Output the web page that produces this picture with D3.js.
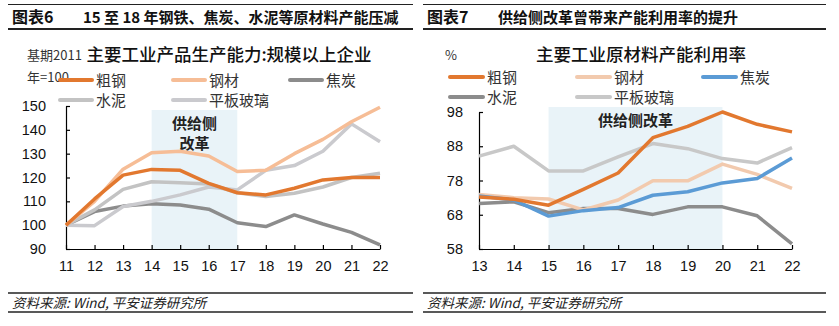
<!DOCTYPE html>
<html><head><meta charset="utf-8">
<script src="https://cdn.jsdelivr.net/npm/d3@7"></script>
<style>
body{margin:0;background:#fff;}
svg{display:block;font-family:"Liberation Sans","Noto Sans CJK SC",sans-serif;}
</style></head>
<body>
<svg id="c" width="839" height="326"></svg>
<script>
// ---------- Data: Chart 6 ----------
const years6 = ["11","12","13","14","15","16","17","18","19","20","21","22"];
const crudeSteel6 = [100,111,121,123.4,123,117.5,113.6,112.7,115.5,119,120,120];
const steelProd6  = [100,110,123.5,130.4,131,129,122.5,123,130,136,143.4,149.5];
const coke6       = [100,105.7,108,109,108.5,106.7,101,99.4,104.3,100.5,97,91.7];
const cement6     = [100,106.4,115,118.2,117.8,117.3,113.6,112,113.4,116,120,121.8];
const glass6      = [100,99.8,107.8,110,112.7,116,114.8,123,125,131,142.5,135];
const yTicks6 = [90,100,110,120,130,140,150];
const shade6 = ["14","17"];

// ---------- Data: Chart 7 ----------
const years7 = ["13","14","15","16","17","18","19","20","21","22"];
const crudeSteel7 = [73.2,72.5,70.8,75.4,80.2,90.5,93.8,98,94.4,92.2];
const steelProd7  = [73.9,73,72.6,69.4,72.3,77.9,77.9,82.8,79.8,75.7];
const coke7       = [73.5,72.3,67.6,69.2,70.1,73.7,74.7,77.3,78.6,84.6];
const cement7     = [71.3,71.8,68.6,69.8,69.8,68.1,70.3,70.3,67.7,59.5];
const glass7      = [85.1,88,80.8,80.8,84.9,88.8,87.3,84.4,83.1,87.6];
const yTicks7 = [58,68,78,88,98];
const shade7 = ["15","20"];

const names = ["粗钢","钢材","焦炭","水泥","平板玻璃"];

const svg = d3.select("#c");
const CJK = '"Noto Sans CJK SC","Liberation Sans",sans-serif';

// ---------- Headers & footers ----------
function frame(x0, x1, label, title){
  svg.append("line").attr("x1",x0).attr("x2",x1).attr("y1",4.5).attr("y2",4.5)
     .attr("stroke","#222").attr("stroke-width",1.2);
  svg.append("line").attr("x1",x0).attr("x2",x1).attr("y1",29).attr("y2",29)
     .attr("stroke","#222").attr("stroke-width",2);
  svg.append("text").attr("x",x0+4).attr("y",23).attr("font-size",16).attr("font-weight","bold")
     .style("font-family",CJK).attr("fill","#111").text(label);
  svg.append("text").attr("x",x0+75).attr("y",23).attr("font-size",15).attr("font-weight","bold")
     .style("font-family",CJK).attr("fill","#111").text(title);
  svg.append("line").attr("x1",x0).attr("x2",x1).attr("y1",293).attr("y2",293)
     .attr("stroke","#222").attr("stroke-width",1.5);
  svg.append("line").attr("x1",x0).attr("x2",x1).attr("y1",312).attr("y2",312)
     .attr("stroke","#222").attr("stroke-width",1.5);
  svg.append("text").attr("x",x0+4).attr("y",308).attr("font-size",13.5).attr("font-style","italic")
     .style("font-family",CJK).attr("fill","#222").text("资料来源: Wind, 平安证券研究所");
}
frame(8, 413, "图表6", "15 至 18 年钢铁、焦炭、水泥等原材料产能压减");
frame(423, 826, "图表7", "供给侧改革曾带来产能利用率的提升");

// ---------- Generic chart ----------
function chart(cfg){
  const x = d3.scalePoint().domain(cfg.years).range(cfg.xr);
  const y = d3.scaleLinear().domain(cfg.yd).range(cfg.yr);
  const g = svg.append("g");
  // shading
  g.append("rect").attr("x",x(cfg.shade[0])).attr("width",x(cfg.shade[1])-x(cfg.shade[0]))
    .attr("y",cfg.shadeTop).attr("height",cfg.yr[0]-cfg.shadeTop).attr("fill","#E9F3F8");
  cfg.shadeText.forEach((t,i)=>{
    g.append("text").attr("x",(x(cfg.shade[0])+x(cfg.shade[1]))/2).attr("y",cfg.shadeTextY+i*20)
      .attr("text-anchor","middle").attr("font-size",15).attr("font-weight","bold")
      .style("font-family",CJK).attr("fill","#222").text(t);
  });
  // axes
  const ya = d3.axisLeft(y).tickValues(cfg.yTicks).tickSizeInner(-4).tickSizeOuter(0).tickPadding(cfg.yPad);
  const yg = g.append("g").attr("transform",`translate(${cfg.xr[0]},0)`).call(ya);
  const xa = d3.axisBottom(x).tickSizeInner(-4).tickSizeOuter(0).tickPadding(12);
  const xg = g.append("g").attr("transform",`translate(0,${cfg.yr[0]})`).call(xa);
  [yg,xg].forEach(a=>{
    a.selectAll("path,line").attr("stroke","#000").attr("stroke-width",1.2);
    a.selectAll("text").attr("font-size",14.5).attr("fill","#111")
      .style("font-family",'"Liberation Sans",Arial,sans-serif');
  });
  // lines
  const line = d3.line().x((d,i)=>x(cfg.years[i])).y(d=>y(d));
  cfg.order.forEach(k=>{
    g.append("path").datum(cfg.series[k]).attr("d",line).attr("fill","none")
      .attr("stroke",cfg.colors[k]).attr("stroke-width",3.5).attr("stroke-linejoin","round");
  });
  // title
  svg.append("text").attr("x",cfg.unitX).attr("y",60).attr("font-size",13).style("font-family",CJK)
    .attr("fill","#333").text(cfg.unit);
  if(cfg.unit2) svg.append("text").attr("x",cfg.unitX).attr("y",82).attr("font-size",13).style("font-family",CJK)
    .attr("fill","#333").text(cfg.unit2);
  svg.append("text").attr("x",cfg.titleX).attr("y",61).attr("text-anchor","middle").attr("font-size",17.5)
    .attr("font-weight","500").style("font-family",CJK).attr("fill","#111").text(cfg.title);
  // legend
  names.forEach((n,i)=>{
    const col = i%3, row = Math.floor(i/3);
    const lx = cfg.legX[col], ly = cfg.legY[row];
    svg.append("line").attr("x1",lx).attr("x2",lx+cfg.legLen).attr("y1",ly).attr("y2",ly)
      .attr("stroke",cfg.colors[n]).attr("stroke-width",4).attr("stroke-linecap","round");
    svg.append("text").attr("x",lx+cfg.legLen+4).attr("y",ly+5.5).attr("font-size",15)
      .style("font-family",CJK).attr("fill","#333").text(n);
  });
}

chart({
  years: years6, xr:[66,380], yd:[90,150], yr:[249,106], yTicks:yTicks6, yPad:20,
  shade: shade6, shadeTop:110, shadeText:["供给侧","改革"], shadeTextY:129,
  series: {"粗钢":crudeSteel6,"钢材":steelProd6,"焦炭":coke6,"水泥":cement6,"平板玻璃":glass6},
  colors: {"粗钢":"#E2782F","钢材":"#F6BD96","焦炭":"#8C8C8C","水泥":"#C3C3C3","平板玻璃":"#CACACE"},
  order: ["焦炭","平板玻璃","水泥","钢材","粗钢"],
  unit:"基期2011", unit2:"年=100", unitX:27, title:"主要工业产品生产能力:规模以上企业", titleX:229,
  legX:[60,173,290], legY:[80,100], legLen:32
});

chart({
  years: years7, xr:[479,792], yd:[58,98], yr:[249,112], yTicks:yTicks7, yPad:16,
  shade: shade7, shadeTop:107, shadeText:["供给侧改革"], shadeTextY:126,
  series: {"粗钢":crudeSteel7,"钢材":steelProd7,"焦炭":coke7,"水泥":cement7,"平板玻璃":glass7},
  colors: {"粗钢":"#E2782F","钢材":"#F2CAAE","焦炭":"#5B9BD5","水泥":"#8C8C8C","平板玻璃":"#C8C8C8"},
  order: ["平板玻璃","水泥","钢材","焦炭","粗钢"],
  unit:"%", unitX:445, title:"主要工业原材料产能利用率", titleX:641,
  legX:[450,577,703], legY:[77,97], legLen:33
});
</script>
</body></html>
